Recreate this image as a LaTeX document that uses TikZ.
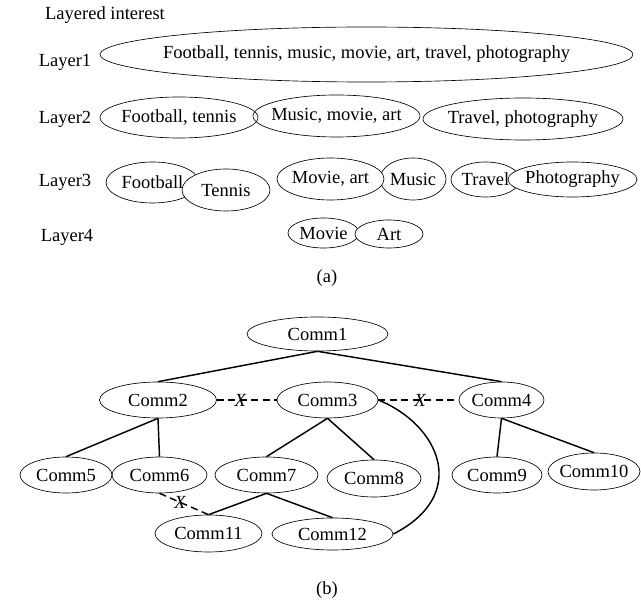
\documentclass[tikz,border=0pt]{standalone}
\usepackage{fontspec}
\setmainfont{Liberation Serif}
\usetikzlibrary{shapes.geometric}
\tikzset{
  txt/.style={font=\fontsize{18.5}{20}\selectfont, inner sep=0pt},
  ell/.style={draw, line width=0.65pt, ellipse, inner sep=-200pt, font=\fontsize{18.5}{20}\selectfont},
  conn/.style={line width=1.45pt},
  dconn/.style={line width=1.45pt, dash pattern=on 7pt off 4.5pt},
  xmark/.style={font=\fontsize{18.5}{20}\selectfont\itshape, inner sep=0pt}
}
\begin{document}
\begin{tikzpicture}[x=1pt,y=-1pt]
\useasboundingbox (0,0) rectangle (641,601);
% ---- (a) ----
\node[txt] (li) at (105,15) {Layered interest};
\node[txt] (l1) at (65,62) {Layer1};
\node[txt] (l2) at (65,119) {Layer2};
\node[txt] (l3) at (65,182) {Layer3};
\node[txt] (l4) at (67,237) {Layer4};

\node[ell, minimum width=533pt, minimum height=55pt] (a1) at (366.5,54.5) {Football, tennis, music, movie, art, travel, photography};

\node[ell, minimum width=158pt, minimum height=41pt] (a21) at (179,117.5) {Football, tennis};
\node[ell, minimum width=167pt, minimum height=42pt] (a22) at (336.5,116) {Music, movie, art};
\node[ell, minimum width=200pt, minimum height=42pt] (a23) at (523,119) {Travel, photography};

\node[ell, minimum width=93pt, minimum height=41pt] (a31) at (152.5,182.5) {Football};
\node[ell, fill=white, minimum width=88pt, minimum height=42pt] (a32) at (226,190) {Tennis};
\node[ell, minimum width=66pt, minimum height=42pt] (a34) at (413,179) {Music};
\node[ell, fill=white, minimum width=107pt, minimum height=42pt] (a33) at (330.5,179) {Movie, art};
\node[ell, minimum width=69pt, minimum height=35pt] (a35) at (485.5,179.5) {Travel};
\node[ell, fill=white, minimum width=129pt, minimum height=35pt] (a36) at (572.5,179.5) {Photography};

\node[ell, minimum width=71pt, minimum height=30pt] (a41) at (323.5,233) {Movie};
\node[ell, fill=white, minimum width=68pt, minimum height=28pt] (a42) at (389,234) {Art};

\node[txt] (capa) at (327,278) {(a)};

% ---- (b) ----
\node[ell, minimum width=141pt, minimum height=34pt] (c1) at (317.5,334) {Comm1};
\node[ell, minimum width=117pt, minimum height=36pt] (c2) at (158,400) {Comm2};
\node[ell, minimum width=101pt, minimum height=36pt] (c3) at (327.5,400) {Comm3};
\node[ell, minimum width=85pt, minimum height=36pt] (c4) at (501.5,400) {Comm4};
\node[ell, minimum width=92pt, minimum height=36pt] (c5) at (66,475) {Comm5};
\node[ell, minimum width=95pt, minimum height=36pt] (c6) at (159.5,475) {Comm6};
\node[ell, minimum width=103pt, minimum height=36pt] (c7) at (266.5,475) {Comm7};
\node[ell, minimum width=94pt, minimum height=37pt] (c8) at (374,478.5) {Comm8};
\node[ell, minimum width=90pt, minimum height=36pt] (c9) at (497,475) {Comm9};
\node[ell, minimum width=92pt, minimum height=37pt] (c10) at (594,471.5) {Comm10};
\node[ell, minimum width=107pt, minimum height=37pt] (c11) at (208.5,533.5) {Comm11};
\node[ell, minimum width=121pt, minimum height=32pt] (c12) at (332.5,534) {Comm12};

\draw[conn] (c1.south) -- (c2.north);
\draw[conn] (c1.south) -- (c4.north);
\draw[conn] (c2.south) -- (c5.north);
\draw[conn] (c2.south) -- (c6.north);
\draw[conn] (c3.south) -- (c7.north);
\draw[conn] (c3.south) -- (c8.north);
\draw[conn] (c4.south) -- (c9.north);
\draw[conn] (c4.south) -- (c10.north);
\draw[conn] (c7.south) -- (c11.north);
\draw[conn] (c7.south) -- (c12.north);
\draw[conn] (c3.east) .. controls (440,425) and (470,495) .. (c12.east);

\draw[dconn] (c2.east) -- node[xmark, pos=0.39] (x1) {X} (c3.west);
\draw[dconn] (c3.east) -- node[xmark, pos=0.52] (x2) {X} (c4.west);
\draw[dconn] (c6.south) -- node[xmark, pos=0.42] (x3) {X} (c11.north);

\node[txt] (capb) at (327,590) {(b)};
\end{tikzpicture}
\end{document}
